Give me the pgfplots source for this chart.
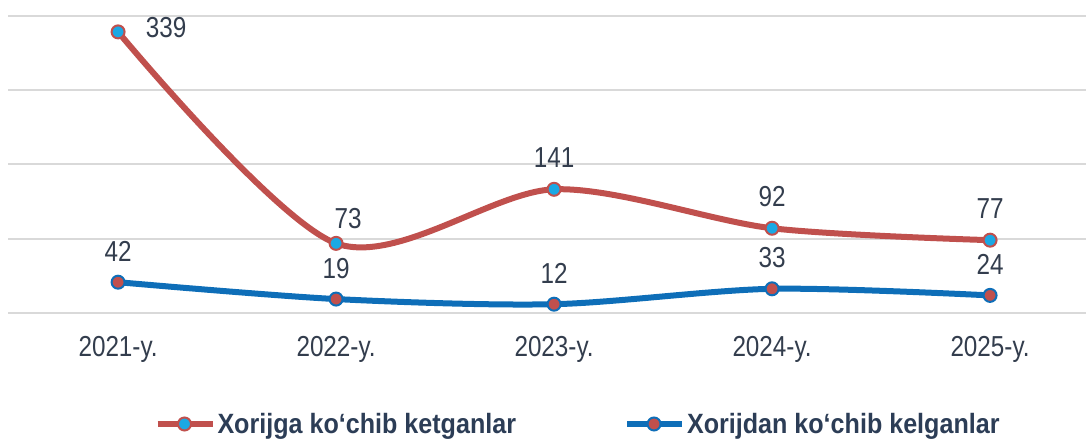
\documentclass[border=0pt]{standalone}
\usepackage{fontspec}
\setmainfont{Liberation Sans}[FakeStretch=0.84]
\newfontfamily\legfont{Liberation Sans}[FakeStretch=0.9]
\usepackage{pgfplots}
\pgfplotsset{compat=1.18}
\definecolor{cred}{HTML}{C0504D}
\definecolor{cblue}{HTML}{0E6EB8}
\definecolor{ccyan}{HTML}{1AA8E4}
\definecolor{ctext}{HTML}{333D4D}
\definecolor{cleg}{HTML}{2C3D56}
\definecolor{cgrid}{HTML}{D9D9D9}
\pgfplotsset{
 common/.style={
  at={(8bp,126bp)}, anchor=south west,
  scale only axis, width=1078bp, height=297bp,
  xmin=-0.505, xmax=4.44,
  clip=false,
  /pgf/number format/assume math mode=true,
  every node near coord/.append style={font=\fontsize{29}{31}\selectfont, text=ctext, anchor=center},
 }
}
\begin{document}
\begin{tikzpicture}
\useasboundingbox (0,0) rectangle (1086bp,439bp);
% primary axis: grid, x labels, blue series
\begin{axis}[common,
 ymin=0, ymax=405,
 axis line style={draw=none},
 ytick={0,101.25,202.5,303.75,405}, yticklabels={},
 ymajorgrids, grid style={cgrid, line width=2bp},
 major tick length=0pt,
 xtick={0,1,2,3,4}, xticklabels={2021-y.,2022-y.,2023-y.,2024-y.,2025-y.},
 ticklabel style={font=\fontsize{29}{31}\selectfont, text=ctext},
 xticklabel style={yshift=-20bp},
]
\addplot[cblue, line width=6bp, smooth, mark=*, mark size=6.5bp,
  mark options={fill=cred, draw=cblue, line width=2bp}]
  coordinates {(0,42)(1,19)(2,12)(3,33)(4,24)};
\addplot[draw=none, mark=none, point meta=y, nodes near coords,
  every node near coord/.append style={yshift=31bp}]
  coordinates {(0,42)(1,19)(2,12)(3,33)(4,24)};
\end{axis}
% secondary axis: red series
\begin{axis}[common,
 ymin=-14.6, ymax=359,
 hide y axis, hide x axis,
 legend columns=2,
 legend style={at={(0.5288,-0.3737)}, anchor=center, draw=none, fill=none,
   font=\legfont\bfseries\fontsize{28}{30}\selectfont, text=cleg,
   /tikz/every even column/.append style={column sep=106bp}},
 legend image code/.code={\draw[mark repeat=2,mark phase=2,#1] plot coordinates {(0bp,0bp)(27bp,0bp)(55bp,0bp)};},
]
\addplot[cred, line width=6bp, smooth, mark=*, mark size=6.5bp,
  mark options={fill=ccyan, draw=cred, line width=2bp}]
  coordinates {(0,339)(1,73)(2,141)(3,92)(4,77)};
\addlegendentry{Xorijga ko‘chib ketganlar}
\addlegendimage{cblue, line width=6bp, mark=*, mark size=6.5bp,
  mark options={fill=cred, draw=cblue, line width=2bp}}
\addlegendentry{Xorijdan ko‘chib kelganlar}
\addplot[draw=none, mark=none, forget plot, point meta=y, nodes near coords,
  every node near coord/.append style={yshift=32bp}]
  coordinates {(2,141)(3,92)(4,77)};
\addplot[draw=none, mark=none, forget plot, point meta=y, nodes near coords,
  every node near coord/.append style={xshift=48bp, yshift=4bp}]
  coordinates {(0,339)};
\addplot[draw=none, mark=none, forget plot, point meta=y, nodes near coords,
  every node near coord/.append style={xshift=12bp, yshift=25bp}]
  coordinates {(1,73)};
\end{axis}
\end{tikzpicture}
\end{document}
